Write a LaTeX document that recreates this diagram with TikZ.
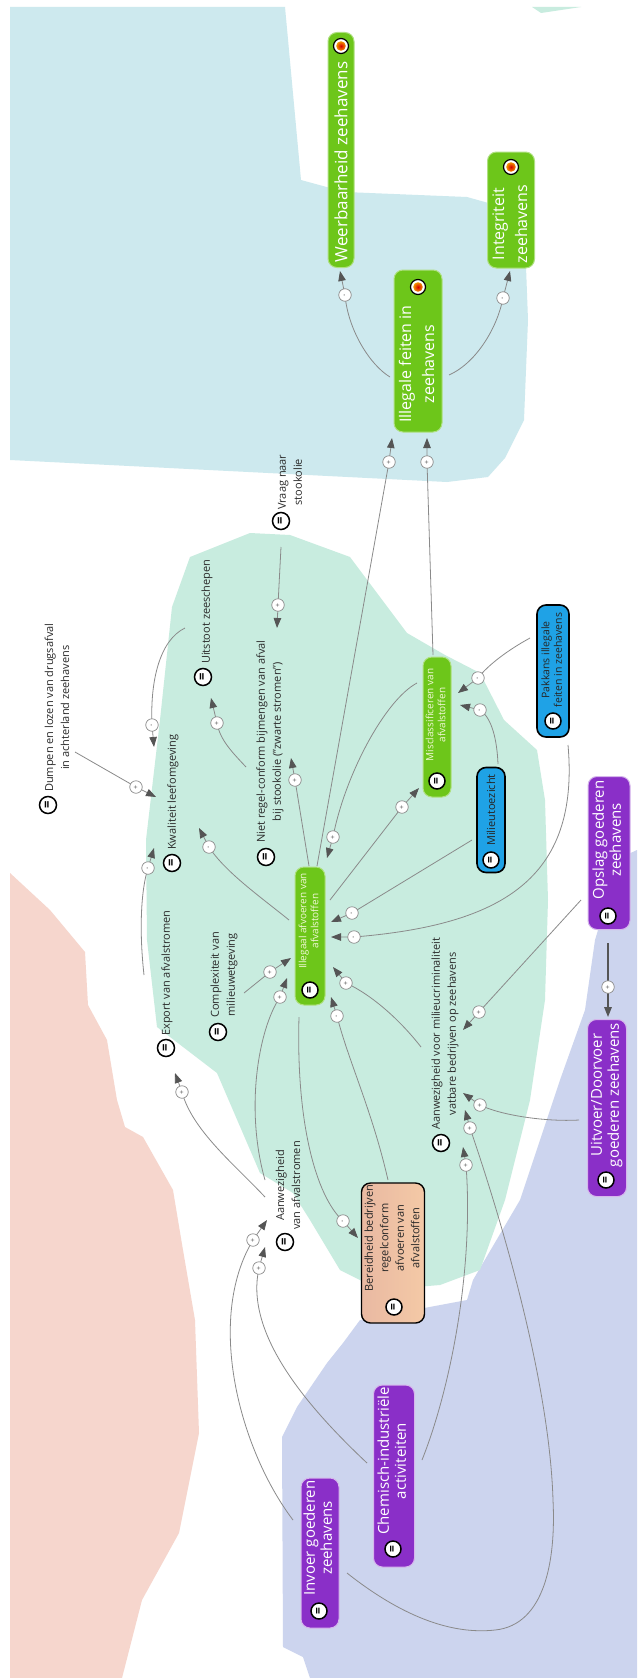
\documentclass[tikz,border=0pt]{standalone}
\usepackage{fontspec}
\setmainfont{Open Sans}
\usetikzlibrary{arrows.meta}
\definecolor{bgblue}{HTML}{CDE9EE}
\definecolor{bggreen}{HTML}{C8ECDF}
\definecolor{bgpink}{HTML}{F6D6CD}
\definecolor{bglav}{HTML}{CCD4EE}
\definecolor{ngreen}{HTML}{6DC61A}
\definecolor{npurple}{HTML}{8A2FC8}
\definecolor{nblue}{HTML}{1FA2E6}
\definecolor{norange}{HTML}{F4C9A6}
\definecolor{norange2}{HTML}{E9B9A2}
\definecolor{lgray}{HTML}{8A8A8A}
\definecolor{dgray}{HTML}{555555}
\definecolor{txt}{HTML}{2A2A2A}
\definecolor{gtext}{HTML}{F2F8D8}
\newcommand{\mlines}[1]{\begin{tabular}{@{}c@{}}#1\end{tabular}}
\tikzset{
  conn/.style={draw=lgray, line width=0.8pt, -{Triangle[length=10pt,width=7.5pt,color=dgray]}},
  sgn/.style={circle, draw=lgray, fill=white, line width=0.7pt, minimum size=12.5pt, inner sep=0pt,
    font=\fontsize{7}{7}\selectfont, text=dgray, rotate=90},
  eqicon/.style={circle, draw=black, fill=white, line width=1.5pt, minimum size=17pt, inner sep=0pt,
    font=\bfseries\fontsize{13}{13}\selectfont, rotate=90},
  eqsmall/.style={eqicon, minimum size=16pt, font=\bfseries\fontsize{12}{12}\selectfont},
  tgt/.style={circle, draw=black, fill=white, line width=1.2pt, minimum size=15pt, inner sep=0pt,
    path picture={\shade[inner color=red!85!black, outer color=yellow!85!orange]
      (path picture bounding box.center) circle (4.8pt);}},
  nbox/.style={rounded corners=9pt, inner sep=0pt, rotate=90},
  gbox/.style={nbox, fill=ngreen, draw=ngreen!55!white, line width=1pt, text=white},
  pbox/.style={nbox, fill=npurple, draw=npurple!35!white, line width=1pt, text=white,
    font=\fontsize{15}{17}\selectfont},
  bbox/.style={nbox, fill=nblue, draw=black, line width=1.6pt, text=black!85},
  obox/.style={nbox, left color=norange2, right color=norange, draw=black, line width=1.4pt, text=black!85},
  lbl/.style={rotate=90, anchor=west, inner sep=0pt, text=txt, align=center,
    font=\fontsize{11}{16}\selectfont},
}
\begin{document}
\begin{tikzpicture}[x=1pt,y=-1pt]
\useasboundingbox (0,0) rectangle (637,1678);
\fill[white] (0,0) rectangle (637,1678);
% ---------- background regions
\fill[bgblue] (10,7) -- (285,7) -- (301,180) -- (345,192) -- (467,197) -- (524,213) -- (528,320)
  -- (524,420) -- (505,458) -- (488,477) -- (447,482) -- (10,460) -- cycle;
\fill[bggreen] (532,7) -- (581,7) -- (541,13) -- cycle;
\fill[bgpink] (10,873) -- (50,910) -- (85,952) -- (88,1005) -- (107,1040) -- (117,1100) -- (125,1127)
  -- (143,1137) -- (173,1190) -- (183,1250) -- (195,1320) -- (199,1433) -- (179,1533) -- (142,1600)
  -- (122,1678) -- (10,1678) -- cycle;
\fill[bglav] (637,850) -- (620,858) -- (595,940) -- (585,1010) -- (560,1080) -- (520,1200) -- (473,1280)
  -- (467,1300) -- (360,1320) -- (343,1343) -- (327,1363) -- (297,1407) -- (282,1437) -- (283,1647)
  -- (303,1657) -- (310,1678) -- (637,1678) -- cycle;
\fill[bggreen] (172,607) -- (190,557) -- (250,533) -- (290,535) -- (350,557) -- (407,633) -- (445,655)
  -- (480,673) -- (504,720) -- (537,750) -- (545,800) -- (548,900) -- (545,1000) -- (530,1100)
  -- (505,1200) -- (480,1270) -- (440,1285) -- (380,1290) -- (340,1270) -- (310,1220) -- (293,1193)
  -- (260,1173) -- (217,1073) -- (157,1027) -- (147,940) -- (146,840) -- (160,720) -- cycle;
% ---------- boxed nodes
\node[gbox, minimum width=235, minimum height=26, font=\fontsize{17}{20}\selectfont] (weer) at (341,150)
  {Weerbaarheid zeehavens\hspace*{24pt}};
\node[tgt] (weerI) at (341,46) {};
\node[gbox, minimum width=116, minimum height=47, font=\fontsize{16}{23}\selectfont] (integ) at (511,210)
  {\mlines{Integriteit\\zeehavens}\hspace*{28pt}};
\node[tgt] (integI) at (511,167) {};
\node[gbox, minimum width=162, minimum height=48, font=\fontsize{16}{23}\selectfont] (illfeit) at (418,351)
  {\mlines{Illegale feiten in\\zeehavens}\hspace*{26pt}};
\node[tgt] (illfeitI) at (418,287) {};
\node[gbox, minimum width=138, minimum height=30, font=\fontsize{10}{12}\selectfont, text=gtext] (illafv) at (310,936)
  {\hspace*{30pt}\mlines{Illegaal afvoeren van\\afvalstoffen}};
\node[eqsmall] (illafvI) at (310,990) {=};
\node[gbox, minimum width=140, minimum height=28, font=\fontsize{10}{12}\selectfont, text=gtext] (miscl) at (437,727)
  {\hspace*{24pt}\mlines{Misclassificeren van\\afvalstoffen}};
\node[eqsmall] (misclI) at (437,781) {=};
\node[bbox, minimum width=132, minimum height=32, font=\fontsize{10.5}{12.5}\selectfont] (pakk) at (553,671)
  {\hspace*{22pt}\mlines{Pakkans illegale\\feiten in zeehavens}};
\node[eqsmall] (pakkI) at (553,721) {=};
\node[bbox, minimum width=105, minimum height=28, font=\fontsize{11}{13}\selectfont] (milieu) at (491,820)
  {\hspace*{20pt}Milieutoezicht};
\node[eqsmall] (milieuI) at (491,860) {=};
\node[pbox, minimum width=153, minimum height=42] (opslag) at (609,853)
  {\hspace*{26pt}\mlines{Opslag goederen\\zeehavens}};
\node[eqsmall] (opslagI) at (608,916) {=};
\node[pbox, minimum width=177, minimum height=39] (uitvoer) at (607,1108)
  {\hspace*{26pt}\mlines{Uitvoer/Doorvoer\\goederen zeehavens}};
\node[eqsmall] (uitvoerI) at (606,1180) {=};
\node[obox, minimum width=140, minimum height=63, font=\fontsize{11}{15.5}\selectfont] (bereid) at (393,1253)
  {\hspace*{30pt}\mlines{Bereidheid bedrijven\\regelconform\\afvoeren van\\afvalstoffen}};
\node[eqsmall] (bereidI) at (394,1307) {=};
\node[pbox, minimum width=182, minimum height=41] (chem) at (394,1476)
  {\hspace*{30pt}\mlines{Chemisch-industriële\\activiteiten}};
\node[eqsmall] (chemI) at (393,1549) {=};
\node[pbox, minimum width=150, minimum height=38] (invoer) at (320,1553)
  {\hspace*{30pt}\mlines{Invoer goederen\\zeehavens}};
\node[eqsmall] (invoerI) at (319,1611) {=};
% ---------- plain labels
\node[lbl] (vraag) at (290,510) {Vraag naar\\stookolie};
\node[eqicon] (vraagI) at (281,521) {=};
\node[lbl] (dumpen) at (57,792) {Dumpen en lozen van drugsafval\\in achterland zeehavens};
\node[eqicon] (dumpenI) at (48,805) {=};
\node[lbl] (uitstoot) at (207,664) {Uitstoot zeeschepen};
\node[eqicon] (uitstootI) at (203,677) {=};
\node[lbl] (kwal) at (173,850) {Kwaliteit leefomgeving};
\node[eqicon] (kwalI) at (172,863) {=};
\node[lbl] (niet) at (270,843) {Niet regel-conform bijmengen van afval\\bij stookolie ("zwarte stromen")};
\node[eqicon] (nietI) at (266,857) {=};
\node[lbl] (export) at (167,1036) {Export van afvalstromen};
\node[eqicon] (exportI) at (166,1048) {=};
\node[lbl] (complex) at (224,1018) {Complexiteit van\\milieuwetgeving};
\node[eqicon] (complexI) at (218,1032) {=};
\node[lbl] (aanwcrim) at (445,1130) {Aanwezigheid voor milieucriminaliteit\\vatbare bedrijven op zeehavens};
\node[eqicon] (aanwcrimI) at (441,1143) {=};
\node[lbl] (aanwafv) at (288,1230) {Aanwezigheid\\van afvalstromen};
\node[eqicon] (aanwafvI) at (285,1242) {=};
% ---------- connectors
\draw[conn] ([shift={(-28,26)}]illfeit.center) .. controls (370,365) and (348,330) .. (345,295) node[sgn]{-} -- ([shift={(-1,121)}]weer.center);
\draw[conn] ([shift={(31,24)}]illfeit.center) .. controls (478,362) and (498,325) .. (503,298) node[sgn]{-} -- ([shift={(-1,61)}]integ.center);
\draw[conn] ([shift={(7,-70)}]illafv.center) -- (389,462) node[sgn]{+} -- ([shift={(-26,87)}]illfeit.center);
\draw[conn] ([shift={(-4,-72)}]miscl.center) -- (427,462) node[sgn]{+} -- ([shift={(9,87)}]illfeit.center);
\draw[conn] ([shift={(-9,37)}]vraag.west) -- (278,605) node[sgn]{+} -- ([shift={(7,-215)}]niet.west);
\draw[conn] ([shift={(18,-40)}]dumpen.west) -- (136,787) node[sgn]{+} -- ([shift={(-17,-53)}]kwal.west);
\draw[conn] ([shift={(-22,-36)}]uitstoot.west) .. controls (160,640) and (150,680) .. (152,725) node[sgn]{-} -- ([shift={(-19,-103)}]kwal.west);
\draw[conn] ([shift={(-24,-76)}]niet.west) .. controls (232,752) and (220,740) .. (217,723) node[sgn]{+} -- ([shift={(4,34)}]uitstoot.west);
\draw[conn] ([shift={(-21,-16)}]illafv.center) .. controls (262,898) and (225,872) .. (209,847) node[sgn]{-} -- ([shift={(26,-22)}]kwal.west);
\draw[conn] ([shift={(-1,-70)}]illafv.center) -- (295,780) node[sgn]{+} -- ([shift={(21,-85)}]niet.west);
\draw[conn] ([shift={(-20,-44)}]miscl.center) .. controls (385,700) and (345,775) .. (333,837) node[sgn]{+} -- ([shift={(17,-78)}]illafv.center);
\draw[conn] ([shift={(20,-36)}]illafv.center) -- (402,807) node[sgn]{+} -- ([shift={(-18,61)}]miscl.center);
\draw[conn] ([shift={(-23,-33)}]pakk.center) .. controls (508,650) and (488,665) .. (478,678) node[sgn]{-} -- ([shift={(21,-34)}]miscl.center);
\draw[conn] ([shift={(7,-56)}]milieu.center) .. controls (497,740) and (492,718) .. (480,710) node[sgn]{-} -- ([shift={(23,-22)}]miscl.center);
\draw[conn] ([shift={(15,74)}]pakk.center) .. controls (580,880) and (500,925) .. (354,937) node[sgn]{-} -- ([shift={(21,1)}]illafv.center);
\draw[conn] ([shift={(-19,20)}]milieu.center) -- (352,913) node[sgn]{-} -- ([shift={(21,-14)}]illafv.center);
\draw[conn] ([shift={(20,-25)}]complex.west) -- (270,972) node[sgn]{+} -- ([shift={(-19,22)}]illafv.center);
\draw[conn] ([shift={(-23,-50)}]aanwafv.west) .. controls (245,1110) and (258,1030) .. (280,997) node[sgn]{+} -- ([shift={(-23,42)}]illafv.center);
\draw[conn] ([shift={(-24,-83)}]aanwcrim.west) .. controls (400,1020) and (372,995) .. (346,983) node[sgn]{+} -- ([shift={(23,31)}]illafv.center);
\draw[conn] ([shift={(-5,-73)}]bereid.center) .. controls (372,1110) and (348,1060) .. (337,1016) node[sgn]{-} -- ([shift={(21,61)}]illafv.center);
\draw[conn] ([shift={(-11,81)}]illafv.center) .. controls (296,1120) and (315,1195) .. (343,1221) node[sgn]{-} -- ([shift={(-35,-15)}]bereid.center);
\draw[conn] ([shift={(-23,-33)}]aanwafv.west) .. controls (235,1165) and (192,1130) .. (182,1092) node[sgn]{+} -- ([shift={(8,37)}]export.west);
\draw[conn] ([shift={(-23,-61)}]export.west) .. controls (139,930) and (141,890) .. (148,868) node[sgn]{-} -- ([shift={(-19,-2)}]kwal.west);
\draw[conn] ([shift={(-27,-33)}]invoer.center) .. controls (240,1450) and (205,1320) .. (253,1240) node[sgn]{+} -- ([shift={(-21,-10)}]aanwafv.west);
\draw[conn] ([shift={(-27,-13)}]chem.center) .. controls (300,1400) and (245,1330) .. (259,1268) node[sgn]{+} -- ([shift={(-23,17)}]aanwafv.west);
\draw[conn] ([shift={(-28,47)}]opslag.center) -- (479,1012) node[sgn]{+} -- ([shift={(18,-100)}]aanwcrim.west);
\draw[conn, draw=dgray, line width=1.5pt] ([shift={(-1,90)}]opslag.center) -- (608,987) node[sgn]{+} -- ([shift={(1,-91)}]uitvoer.center);
\draw[conn] ([shift={(-28,12)}]uitvoer.center) .. controls (545,1122) and (500,1115) .. (480,1105) node[sgn]{+} -- ([shift={(18,-37)}]aanwcrim.west);
\draw[conn] ([shift={(28,-16)}]chem.center) .. controls (450,1390) and (474,1270) .. (466,1165) node[sgn]{+} -- ([shift={(18,17)}]aanwcrim.west);
\draw[conn] ([shift={(27,20)}]invoer.center) .. controls (400,1615) and (450,1635) .. (495,1630)
  .. controls (545,1625) and (556,1560) .. (553,1500)
  .. controls (550,1400) and (515,1260) .. (470,1128) node[sgn]{+} -- ([shift={(20,-20)}]aanwcrim.west);
\end{tikzpicture}
\end{document}
